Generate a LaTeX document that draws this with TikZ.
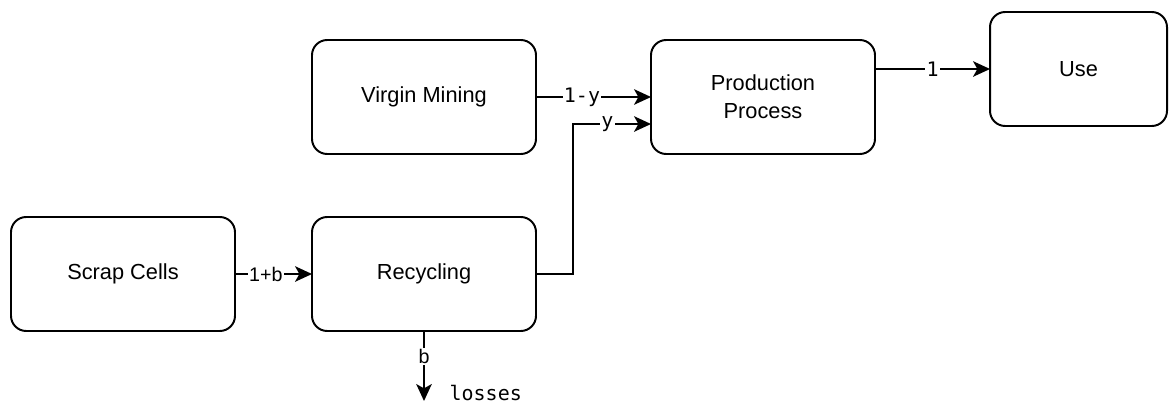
\documentclass[tikz,border=0pt]{standalone}
\usepackage{fontspec}
\setmainfont{Liberation Sans}
\newfontfamily\monofont{DejaVu Sans Mono}
\usetikzlibrary{positioning,arrows.meta}

\begin{document}
\begin{tikzpicture}[
    every node/.style={align=center},
    box/.style={draw, line width=1.4pt, rounded corners=0.38cm, minimum width=5.6cm,
                minimum height=2.85cm, outer sep=0pt, font=\fontsize{15.5}{20}\selectfont},
    lbl/.style={fill=white, inner sep=1pt, font=\fontsize{14}{16}\selectfont},
    mlbl/.style={fill=white, inner sep=1pt, font=\fontsize{14.2}{16}\selectfont\monofont},
    arr/.style={-{Stealth[length=12pt, width=11pt, inset=3pt]}, line width=1.4pt},
]
\useasboundingbox (0,0) rectangle (29.275,-10.075);

% Process boxes
\node[box, anchor=north west] (scrap) at (0.275,-5.425) {Scrap Cells};
\node[box, right=1.925cm of scrap]  (recycle) {Recycling};
\node[box, above=1.575cm of recycle] (virgin) {Virgin Mining};
\node[box, right=2.875cm of virgin]  (prod)   {Production\\Process};
\node[box, minimum width=4.425cm, right=2.875cm of prod.north east, yshift=-0.725cm] (use) {Use};

% Loss outlet below recycling
\coordinate[below=1.75cm of recycle.south] (lossend);
\node[mlbl, fill=none, anchor=west, xshift=0.6cm, yshift=0.2cm] (losses) at (lossend) {losses};

% Flows
\draw[arr] (scrap) -- node[lbl, pos=0.4]{1+b} (recycle);
\draw[arr] (virgin) -- node[mlbl, pos=0.4]{1-y} (prod);
\draw[arr] (recycle.east) -- ++(0.925,0) |- node[mlbl, pos=0.72]{y} ([yshift=-0.675cm]prod.west);
\draw[arr] (prod.east |- use) -- node[mlbl, pos=0.5]{1} (use.west);
\draw[arr] (recycle.south) -- node[lbl, pos=0.36]{b} (lossend);

\end{tikzpicture}
\end{document}
